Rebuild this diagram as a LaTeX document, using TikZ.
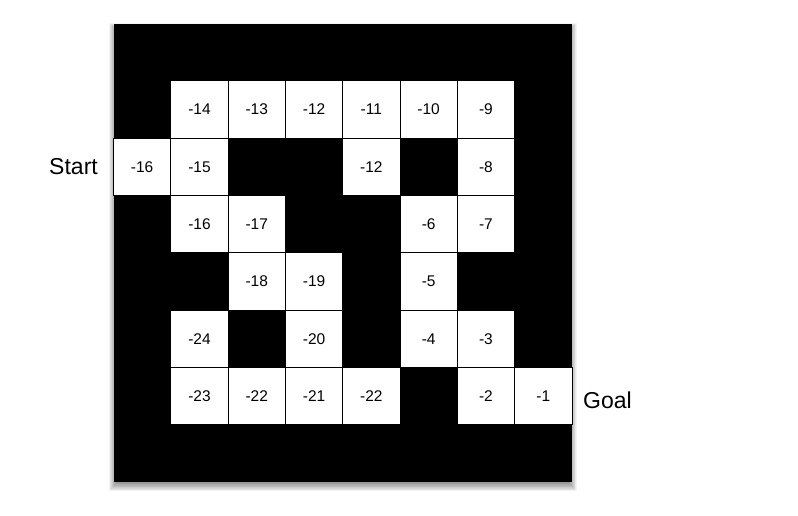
\documentclass[tikz,border=0pt]{standalone}
\usepackage{fontspec}
\setmainfont{Liberation Sans}
\begin{document}
\begin{tikzpicture}[x=1pt,y=-1pt,
  cell/.style={draw=black, line width=0.8pt, fill=white, minimum size=57.3pt, inner sep=0pt, text height=11pt, text depth=0pt, font=\fontsize{15.5}{17}\selectfont},
  lbl/.style={font=\fontsize{23}{26}\selectfont, inner sep=0pt}]
\useasboundingbox (0,0) rectangle (798,515);
% soft shadow
\foreach \i in {0,...,11} {
  \fill[black, opacity=0.045] (113.5+3-\i*0.7, 23.5+6-\i*0.6) rectangle (572-3+\i*0.7, 481.9+1+\i*0.75);
}
% maze background
\fill[black] (113.5,23.5) rectangle (572,481.9);
% white cells
\foreach \c/\r/\t in {1/1/-14,2/1/-13,3/1/-12,4/1/-11,5/1/-10,6/1/-9,
                      0/2/-16,1/2/-15,4/2/-12,6/2/-8,
                      1/3/-16,2/3/-17,5/3/-6,6/3/-7,
                      2/4/-18,3/4/-19,5/4/-5,
                      1/5/-24,3/5/-20,5/5/-4,6/5/-3,
                      1/6/-23,2/6/-22,3/6/-21,4/6/-22,6/6/-2,7/6/-1} {
  \node[cell] (c\c\r) at ({113.5+57.3*(\c+0.5)}, {23.5+57.3*(\r+0.5)}) {\t};
}
\node[lbl, anchor=east] (start) at (98,167) {Start};
\node[lbl, anchor=west] (goal) at (583,400) {Goal};
\end{tikzpicture}
\end{document}
